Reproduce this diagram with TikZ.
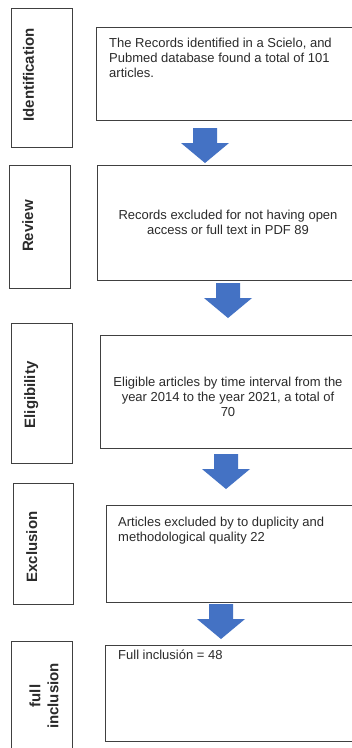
\documentclass[tikz,border=0pt]{standalone}
\usepackage{fontspec}
\setmainfont{Liberation Sans}
\definecolor{boxline}{HTML}{404040}
\definecolor{txtcol}{HTML}{2B2B2B}
\definecolor{arrowblue}{HTML}{4472C4}
\begin{document}
\begin{tikzpicture}[x=1pt,y=-1pt,
  mainbox/.style={draw=boxline, line width=0.9pt, rectangle, inner sep=0pt},
  sidebox/.style={draw=boxline, line width=0.9pt, rectangle, inner sep=0pt},
  maintxt/.style={text=txtcol, inner sep=0pt, font=\fontsize{13}{15}\selectfont},
  sidetxt/.style={text=txtcol, inner sep=0pt, rotate=90, font=\fontsize{15}{18}\selectfont\bfseries},
  blockarrow/.pic={\fill[arrowblue] (-12,0) -- (12,0) -- (12,15) -- (24,15) -- (0,35) -- (-24,15) -- (-12,15) -- cycle;}
]
\useasboundingbox (0,0) rectangle (352,748);
\clip (0,0) rectangle (352,748);
\fill[white] (0,0) rectangle (352,748);

% side boxes
\node[sidebox, minimum width=61pt, minimum height=139pt] (s1) at (41.5,77.5) {};
\node[sidebox, minimum width=61pt, minimum height=123pt] (s2) at (39.5,226.5) {};
\node[sidebox, minimum width=61pt, minimum height=140pt] (s3) at (41.5,393) {};
\node[sidebox, minimum width=60pt, minimum height=121pt] (s4) at (43,543.5) {};
\node[sidebox, minimum width=61pt, minimum height=120pt] (s5) at (41.5,701) {};

\node[sidetxt, anchor=base] (l1) at (34,75) {Identification};
\node[sidetxt, anchor=base] (l2) at (33,226) {Review};
\node[sidetxt, anchor=base] (l3) at (35,395) {Eligibility};
\node[sidetxt, anchor=base] (l4) at (37,547) {Exclusion};
\node[sidetxt, align=center, anchor=center] (l5) at (44,696) {full\\inclusion};

% main boxes
\node[mainbox, minimum width=276pt, minimum height=93pt] (b1) at (234,73.5) {};
\node[mainbox, minimum width=262pt, minimum height=115pt] (b2) at (228,222.5) {};
\node[mainbox, minimum width=256pt, minimum height=113pt] (b3) at (228,391.5) {};
\node[mainbox, minimum width=266pt, minimum height=97pt] (b4) at (239,553.5) {};
\node[mainbox, minimum width=266pt, minimum height=96pt] (b5) at (238,693) {};

\node[maintxt, align=left, anchor=north west] (t1) at (109,37.5) {The Records identified in a Scielo, and\\Pubmed database found a total of 101\\articles.};
\node[maintxt, align=center, anchor=center] (t2) at (228,222) {Records excluded for not having open\\access or full text in PDF 89};
\node[maintxt, align=center, anchor=center] (t3) at (228,397) {Eligible articles by time interval from the\\year 2014 to the year 2021, a total of\\70};
\node[maintxt, align=left, anchor=north west] (t4) at (118,516.5) {Articles excluded by to duplicity and\\methodological quality 22};
\node[maintxt, align=left, anchor=north west] (t5) at (118,649.5) {Full inclusión = 48};

% block arrows
\pic at (205,128) {blockarrow};
\pic at (228,283) {blockarrow};
\pic at (226,454) {blockarrow};
\pic at (221,604) {blockarrow};
\end{tikzpicture}
\end{document}
